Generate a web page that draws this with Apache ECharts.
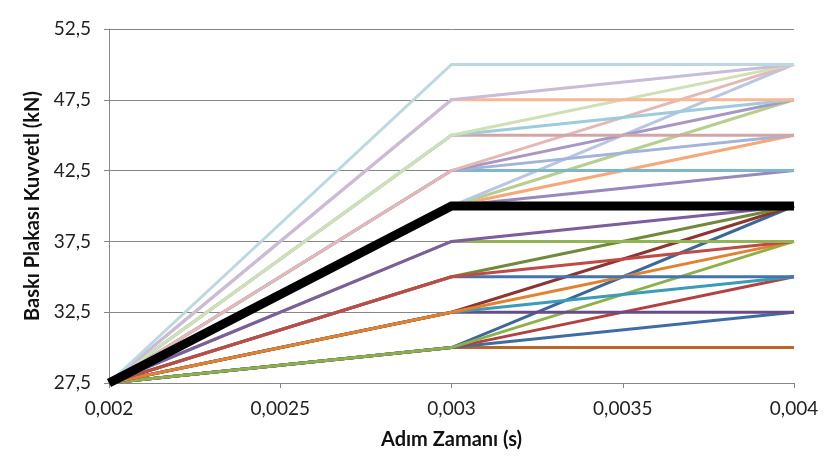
<!DOCTYPE html>
<html>
<head>
<meta charset="utf-8">
<script src="https://cdn.jsdelivr.net/npm/echarts@6/dist/echarts.min.js"></script>
<style>
html,body{margin:0;padding:0;background:#fff;}
#chart{width:835px;height:464px;}
</style>
</head>
<body>
<div id="chart"></div>
<script>
// Time steps (s)
const timeSteps = [0.002, 0.003, 0.004];
// Force at the first time step (kN), common to all series
const startForce = 27.5;
// Force at 0.003 s for each series (kN)
const midForces = [
  30, 30, 30, 30, 30,
  32.5, 32.5, 32.5, 32.5,
  35, 35, 35,
  37.5, 37.5,
  40, 40, 40, 40,
  42.5, 42.5, 42.5, 42.5,
  45, 45, 45,
  47.5, 47.5,
  50,
  40
];
// Force at 0.004 s for each series (kN)
const endForces = [
  30, 32.5, 35, 40, 37.5,
  32.5, 35, 40, 37.5,
  35, 40, 37.5,
  37.5, 40,
  42.5, 45, 47.5, 50,
  42.5, 45, 47.5, 50,
  45, 47.5, 50,
  47.5, 50,
  50,
  40
];
// Line colours, one per series
const seriesColors = [
  '#BB6528', '#3E6DA6', '#B2423F', '#3C6898', '#8EB04B',
  '#684C8A', '#3A9CB6', '#8E3431', '#E0822F',
  '#4474AE', '#6E8A3A', '#BE4B48',
  '#93B452', '#7A5E9E',
  '#9A88BC', '#F6A878', '#B7CF8C', '#B8C6E3',
  '#7DB8CA', '#A2B4DA', '#A897C4', '#E4B8B6',
  '#D2A6A6', '#9ECCDC', '#CFE0B6',
  '#F7B894', '#C9BCD9',
  '#BCD9E2',
  '#000000'
];
// Axis labels
const xTickLabels = ['0,002', '0,0025', '0,003', '0,0035', '0,004'];
const yTickLabels = ['27,5', '32,5', '37,5', '42,5', '47,5', '52,5'];
const xAxisTitle = 'Adım Zamanı (s)';
const yAxisTitle = 'Baskı Plakası Kuvvetl (kN)';

const FONT = 'Lato, "Noto Sans", sans-serif';
const series = midForces.map((m, i) => ({
  type: 'line',
  data: [[timeSteps[0], startForce], [timeSteps[1], m], [timeSteps[2], endForces[i]]],
  showSymbol: false,
  symbol: 'none',
  animation: false,
  silent: true,
  lineStyle: { color: seriesColors[i], width: i === midForces.length - 1 ? 9 : 3, cap: 'butt', join: 'miter' },
  itemStyle: { color: seriesColors[i] }
}));

const chart = echarts.init(document.getElementById('chart'), null, { renderer: 'canvas' });
chart.setOption({
  backgroundColor: '#ffffff',
  animation: false,
  grid: { left: 109, right: 41, top: 29, bottom: 81, containLabel: false },
  xAxis: {
    type: 'value',
    min: 0.002, max: 0.004, interval: 0.0005,
    name: xAxisTitle,
    nameLocation: 'middle',
    nameGap: 47,
    nameTextStyle: { fontFamily: FONT, fontWeight: 'bold', fontSize: 20, color: '#111' },
    axisLine: { show: true, lineStyle: { color: '#868686', width: 1 } },
    axisTick: { show: true, length: 5, lineStyle: { color: '#868686' } },
    splitLine: { show: false },
    axisLabel: {
      fontFamily: FONT, fontSize: 19, color: '#222', margin: 16,
      formatter: (v) => {
        const idx = Math.round((v - 0.002) / 0.0005);
        return xTickLabels[idx] !== undefined ? xTickLabels[idx] : '';
      }
    }
  },
  yAxis: {
    type: 'value',
    min: 27.5, max: 52.5, interval: 5,
    name: yAxisTitle,
    nameLocation: 'middle',
    nameGap: 62,
    nameRotate: 90,
    nameTextStyle: { fontFamily: FONT, fontWeight: 'bold', fontSize: 20, color: '#111' },
    axisLine: { show: true, lineStyle: { color: '#868686', width: 1 } },
    axisTick: { show: true, length: 5, lineStyle: { color: '#868686' } },
    splitLine: { show: true, lineStyle: { color: '#868686', width: 1 } },
    axisLabel: {
      fontFamily: FONT, fontSize: 19, color: '#222', margin: 18,
      formatter: (v) => {
        const idx = Math.round((v - 27.5) / 5);
        return yTickLabels[idx] !== undefined ? yTickLabels[idx] : '';
      }
    }
  },
  series: series
});
</script>
</body>
</html>
